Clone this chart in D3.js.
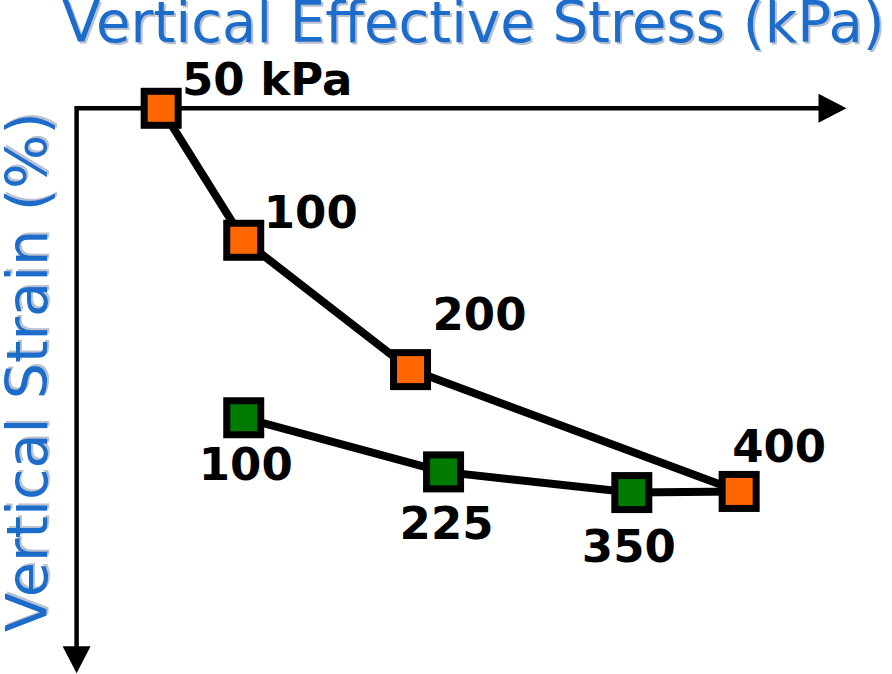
<!DOCTYPE html>
<html>
<head>
<meta charset="utf-8">
<script src="https://cdn.jsdelivr.net/npm/d3@7"></script>
<style>
  html, body { margin: 0; padding: 0; background: #ffffff; }
  svg { display: block; }
</style>
</head>
<body>
<div id="chart"></div>
<script>
// ---- data ----
const titleText = "Vertical Effective Stress (kPa)";
const yLabelText = "Vertical Strain (%)";

// loading branch (orange): position along stress axis (kPa) and vertical strain (%)
const loadStress = [50, 100, 201, 400];
const loadStrain = [0, 3.51, 6.95, 10.19];
const loadLabels = ["50 kPa", "100", "200", "400"];

// unloading branch (green)
const unloadStress = [100, 221, 335];
const unloadStrain = [8.23, 9.67, 10.22];
const unloadLabels = ["100", "225", "350"];

// axis extents
const stressMax = 465;
const strainMax = 15;

// ---- layout ----
const W = 892, H = 674;
const loadLabelOffsets = [[106, -13], [67, -12], [69, -40], [40, -29]];
const unloadLabelOffsets = [[2, 62], [3, 67], [-3, 69]];

const svg = d3.select("#chart").append("svg")
  .attr("width", W).attr("height", H);

const defs = svg.append("defs");
defs.append("filter").attr("id", "shadow")
  .attr("x", "-5%").attr("y", "-20%").attr("width", "110%").attr("height", "140%")
  .append("feDropShadow")
  .attr("dx", 2).attr("dy", 2).attr("stdDeviation", 0.6)
  .attr("flood-color", "#9aa8ba").attr("flood-opacity", 0.7);

const x = d3.scaleLinear().domain([0, stressMax]).range([78.6, 846.5]);
const y = d3.scaleLinear().domain([0, strainMax]).range([108.3, 672.3]);

const blue = "#1a6ccc";
const orange = "#ff6600";
const green = "#007a00";
const fontFam = "DejaVu Sans, Verdana, sans-serif";

function fitText(sel, target) {
  const base = +sel.attr("font-size");
  const w = sel.node().getComputedTextLength();
  if (w > 0) sel.attr("font-size", base * target / w);
}

// title
const title = svg.append("text")
  .attr("x", 62).attr("y", 42)
  .attr("font-family", fontFam).attr("font-size", 55)
  .attr("fill", blue).attr("filter", "url(#shadow)")
  .text(titleText);
fitText(title, 823);

// y axis label
const ylab = svg.append("text")
  .attr("transform", "translate(47,632) rotate(-90)")
  .attr("font-family", fontFam).attr("font-size", 56)
  .attr("fill", blue).attr("filter", "url(#shadow)")
  .text(yLabelText);
fitText(ylab, 520);

// axes with arrowheads
const x0 = x(0), y0 = y(0);
const xEnd = x(stressMax), yEnd = y(strainMax);
svg.append("path")
  .attr("d", `M${xEnd - 26},${y0} L${x0 - 2},${y0} L${x0 - 2},${yEnd - 24}`)
  .attr("fill", "none").attr("stroke", "#000").attr("stroke-width", 4.5);
svg.append("path")
  .attr("d", `M${xEnd},${y0} L${xEnd - 28},${y0 - 14.5} L${xEnd - 28},${y0 + 14.5} Z`)
  .attr("fill", "#000");
svg.append("path")
  .attr("d", `M${x0 - 2},${yEnd + 1} L${x0 - 16},${yEnd - 26} L${x0 + 12},${yEnd - 26} Z`)
  .attr("fill", "#000");

// lines
const load = loadStress.map((s, i) => ({ s, e: loadStrain[i], label: loadLabels[i], off: loadLabelOffsets[i] }));
const unload = unloadStress.map((s, i) => ({ s, e: unloadStrain[i], label: unloadLabels[i], off: unloadLabelOffsets[i] }));

const line = d3.line().x(d => x(d.s)).y(d => y(d.e));

svg.append("path").datum(unload.concat([load[load.length - 1]]))
  .attr("d", line).attr("fill", "none").attr("stroke", "#000")
  .attr("stroke-width", 8).attr("stroke-linejoin", "round");
svg.append("path").datum(load)
  .attr("d", line).attr("fill", "none").attr("stroke", "#000")
  .attr("stroke-width", 8).attr("stroke-linejoin", "round");

// markers
const size = 34;
function markers(data, fill) {
  svg.append("g").selectAll("rect").data(data).join("rect")
    .attr("x", d => x(d.s) - size / 2)
    .attr("y", d => y(d.e) - size / 2)
    .attr("width", size).attr("height", size)
    .attr("fill", fill).attr("stroke", "#000").attr("stroke-width", 7);
}
markers(unload, green);
markers(load, orange);

// labels
function labels(data) {
  svg.append("g").selectAll("text").data(data).join("text")
    .attr("x", d => x(d.s) + d.off[0])
    .attr("y", d => y(d.e) + d.off[1])
    .attr("text-anchor", "middle")
    .attr("font-family", fontFam)
    .attr("font-weight", "bold")
    .attr("font-size", 45)
    .attr("fill", "#000")
    .text(d => d.label);
}
labels(load);
labels(unload);
</script>
</body>
</html>
